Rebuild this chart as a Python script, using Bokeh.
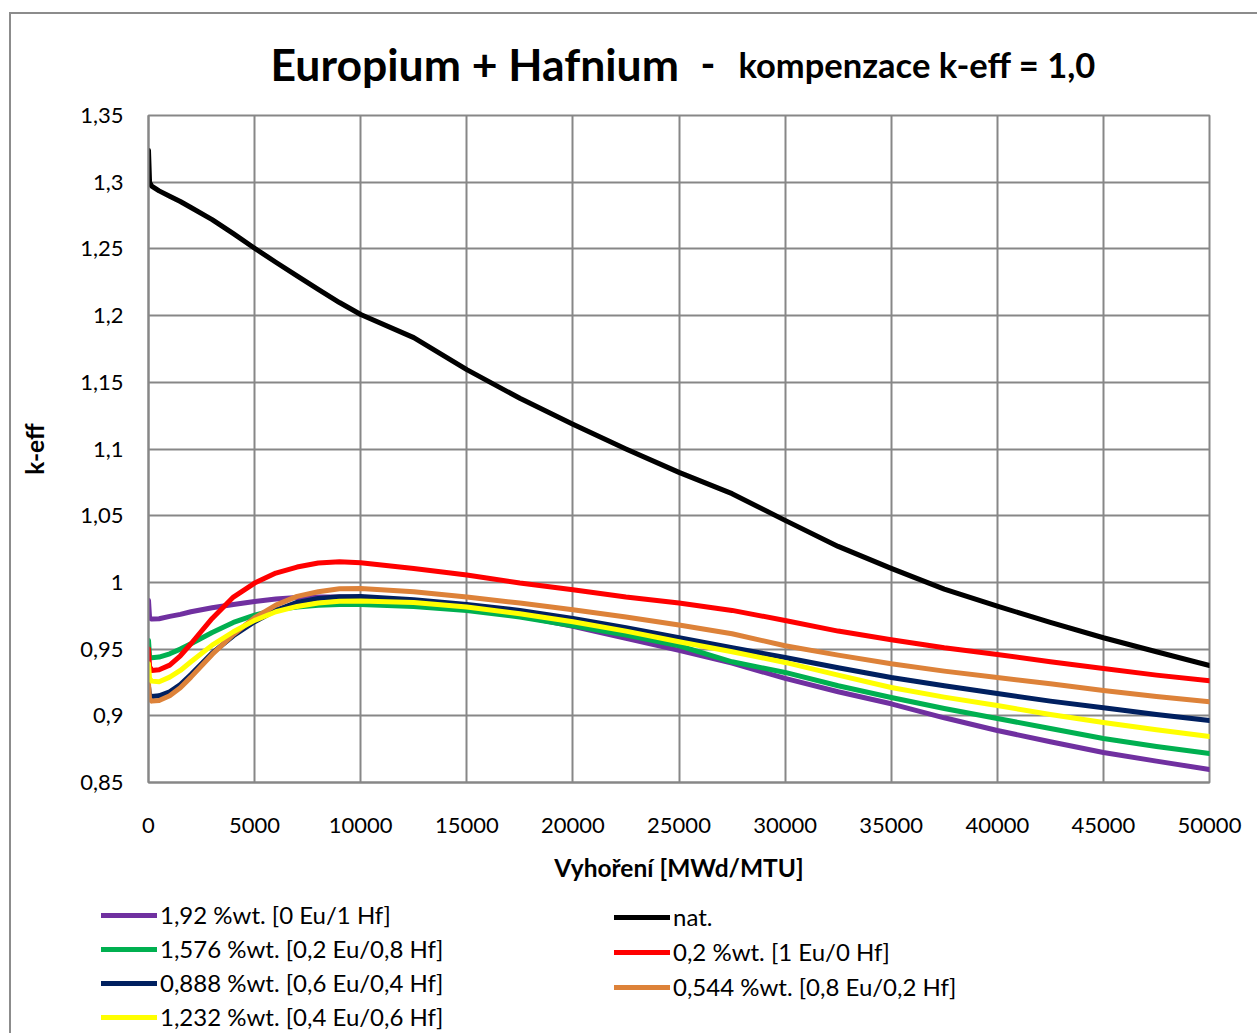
from bokeh.plotting import figure
from bokeh.layouts import column
from bokeh.models import Range1d, FixedTicker, Legend, LegendItem
from bokeh.core.properties import value
from bokeh.embed import file_html
from bokeh.resources import INLINE

burnup = [0, 50, 150, 500, 1000, 1500, 2000, 3000, 4000, 5000, 6000, 7000, 8000, 9000,
          10000, 12500, 15000, 17500, 20000, 22500, 25000, 27500, 30000, 32500, 35000,
          37500, 40000, 42500, 45000, 47500, 50000]

keff_hf_only = [0.9865, 0.9735, 0.9725, 0.9728, 0.9745, 0.976, 0.978, 0.981, 0.9835, 0.9857,
                0.9875, 0.9887, 0.989, 0.989, 0.9885, 0.9865, 0.982, 0.975, 0.967, 0.958,
                0.949, 0.9395, 0.928, 0.918, 0.909, 0.8985, 0.889, 0.8805, 0.8725, 0.866, 0.8597]
keff_nat = [1.3238, 1.300, 1.297, 1.2935, 1.2895, 1.2855, 1.281, 1.272, 1.2615, 1.2505,
            1.240, 1.2298, 1.2197, 1.2098, 1.2008, 1.1835, 1.1595, 1.138, 1.1185, 1.100,
            1.0825, 1.0665, 1.0465, 1.027, 1.0105, 0.995, 0.9822, 0.970, 0.9585, 0.948, 0.9377]
keff_02eu = [0.9565, 0.9445, 0.9435, 0.944, 0.9465, 0.950, 0.954, 0.9625, 0.970, 0.9755,
             0.9795, 0.9815, 0.9828, 0.9834, 0.9834, 0.982, 0.979, 0.974, 0.9675, 0.9605,
             0.9525, 0.9405, 0.9325, 0.9225, 0.9137, 0.9055, 0.898, 0.8905, 0.883, 0.877, 0.8717]
keff_eu_only = [0.950, 0.937, 0.934, 0.9345, 0.938, 0.945, 0.954, 0.973, 0.989, 0.9995,
                1.007, 1.0115, 1.0145, 1.0155, 1.0148, 1.0105, 1.0055, 0.9995, 0.9945, 0.989,
                0.9845, 0.979, 0.9715, 0.9635, 0.957, 0.951, 0.946, 0.9405, 0.9355, 0.9305, 0.9262]
keff_06eu = [0.922, 0.9155, 0.9145, 0.915, 0.918, 0.9235, 0.931, 0.947, 0.960, 0.9705,
             0.979, 0.985, 0.988, 0.9893, 0.9895, 0.987, 0.9835, 0.979, 0.973, 0.966,
             0.9585, 0.951, 0.9437, 0.936, 0.9287, 0.9225, 0.9167, 0.911, 0.906, 0.901, 0.8965]
keff_08eu = [0.924, 0.9125, 0.911, 0.9115, 0.915, 0.921, 0.929, 0.946, 0.961, 0.9735,
             0.983, 0.9895, 0.993, 0.9952, 0.9955, 0.993, 0.989, 0.9845, 0.9795, 0.974,
             0.968, 0.9615, 0.9525, 0.9455, 0.939, 0.9335, 0.9287, 0.924, 0.919, 0.9145, 0.9105]
keff_04eu = [0.939, 0.928, 0.926, 0.9255, 0.929, 0.934, 0.9405, 0.953, 0.963, 0.9715,
             0.978, 0.982, 0.9845, 0.9858, 0.986, 0.985, 0.9815, 0.9765, 0.9705, 0.9635,
             0.9555, 0.948, 0.940, 0.9305, 0.9212, 0.914, 0.9077, 0.901, 0.895, 0.8895, 0.8845]

series_labels = ["1,92 %wt. [0 Eu/1 Hf]", "nat.", "1,576 %wt. [0,2 Eu/0,8 Hf]",
                 "0,2 %wt. [1 Eu/0 Hf]", "0,888 %wt. [0,6 Eu/0,4 Hf]",
                 "0,544 %wt. [0,8 Eu/0,2 Hf]", "1,232 %wt. [0,4 Eu/0,6 Hf]"]
series_values = [keff_hf_only, keff_nat, keff_02eu, keff_eu_only, keff_06eu, keff_08eu, keff_04eu]
series_colors = ["#7030A0", "#000000", "#00B050", "#FF0000", "#002060", "#DD8239", "#FFFF00"]

title_main = "Europium + Hafnium"
title_dash = "-"
title_sub = "kompenzace k-eff = 1,0"

x_ticks = list(range(0, 50001, 5000))
y_ticks = [0.85, 0.9, 0.95, 1.0, 1.05, 1.1, 1.15, 1.2, 1.25, 1.3, 1.35]
y_tick_labels = ["0,85", "0,9", "0,95", "1", "1,05", "1,1", "1,15", "1,2", "1,25", "1,3", "1,35"]

FONT = "Lato"
GRID = "#878787"
W = 1246


def bare(height):
    f = figure(width=W, height=height, output_backend="svg", toolbar_location=None,
               title=None, x_range=Range1d(0, W), y_range=Range1d(0, height),
               x_axis_location=None, y_axis_location=None,
               min_border=0, min_border_left=0, min_border_right=0,
               min_border_top=0, min_border_bottom=0,
               background_fill_color="white", border_fill_color="white")
    f.outline_line_color = None
    f.grid.visible = False
    f.frame_align = False
    return f


# ---- title (y measured upward from the strip's bottom) ----
TH = 85
tf = bare(TH)
tf.text(x=[259], y=[36], text=[title_main], text_font=value(FONT), text_font_style="bold",
        text_font_size="44.5px", text_baseline="middle", text_color="black")
tf.text(x=[689], y=[36], text=[title_dash], text_font=value(FONT), text_font_style="bold",
        text_font_size="40px", text_baseline="middle", text_color="black")
tf.text(x=[727], y=[35], text=[title_sub], text_font=value(FONT), text_font_style="bold",
        text_font_size="34.5px", text_baseline="middle", text_color="black")

# ---- main chart ----
p = figure(width=W, height=16 + 667 + 110, output_backend="svg", toolbar_location=None,
           x_range=Range1d(0, 50000), y_range=Range1d(0.85, 1.35),
           min_border_left=137, min_border_right=W - 137 - 1061, min_border_top=16,
           min_border_bottom=110,
           background_fill_color="white", border_fill_color="white")
p.frame_align = False
p.outline_line_color = GRID
p.outline_line_width = 2

p.xaxis.ticker = FixedTicker(ticks=x_ticks)
p.yaxis.ticker = FixedTicker(ticks=y_ticks)
p.yaxis.major_label_overrides = {t: l for t, l in zip(y_ticks, y_tick_labels)}
p.xaxis.major_label_overrides = {t: str(t) for t in x_ticks}
for ax in (p.xaxis, p.yaxis):
    ax.major_tick_out = 0
    ax.major_tick_in = 0
    ax.minor_tick_out = 0
    ax.minor_tick_in = 0
    ax.axis_line_color = GRID
    ax.axis_line_width = 2
    ax.major_label_text_font = FONT
    ax.major_label_text_font_size = "22px"
    ax.major_label_text_color = "black"
    ax.axis_label_text_font = FONT
    ax.axis_label_text_font_style = "bold"
    ax.axis_label_text_font_size = "24.5px"
    ax.axis_label_text_color = "black"
p.xaxis.axis_label = "Vyhoření [MWd/MTU]"
p.yaxis.axis_label = "k-eff"
p.xaxis.major_label_standoff = 35
p.yaxis.major_label_standoff = 25
p.xaxis.axis_label_standoff = 17
p.yaxis.axis_label_standoff = 28

p.grid.grid_line_color = GRID
p.grid.grid_line_width = 2
p.grid.grid_line_alpha = 1.0

for vals, col in zip(series_values, series_colors):
    p.line(burnup, vals, line_color=col, line_width=5, line_cap="round", line_join="round")

# ---- legend ----
LH = 141
lf = bare(LH)
# sample renderers for the legend glyphs (their points lie outside the visible range)
leg_renderers = [lf.line([-100, -90], [-100, -90], line_color=col, line_width=5, line_cap="round")
                 for col in series_colors]


def make_legend(idx, loc, spacing):
    return Legend(items=[LegendItem(label=series_labels[i], renderers=[leg_renderers[i]]) for i in idx],
                  location=loc, orientation="vertical", padding=0, margin=0, spacing=spacing,
                  glyph_width=56, glyph_height=20, label_standoff=3,
                  label_text_font=FONT, label_text_font_size="24px", label_text_color="black",
                  border_line_color=None, background_fill_alpha=0)


lf.add_layout(make_legend([0, 2, 4, 6], (90, 2), 5))
lf.add_layout(make_legend([1, 3, 5], (603, 32), 6))

layout = column(tf, p, lf, spacing=0)
layout.styles = {"margin-top": "12px", "margin-left": "9px",
                 "border-top": "2px solid #8c8c8c", "border-left": "2px solid #8c8c8c"}

open("out.html", "w").write(file_html(layout, INLINE))
